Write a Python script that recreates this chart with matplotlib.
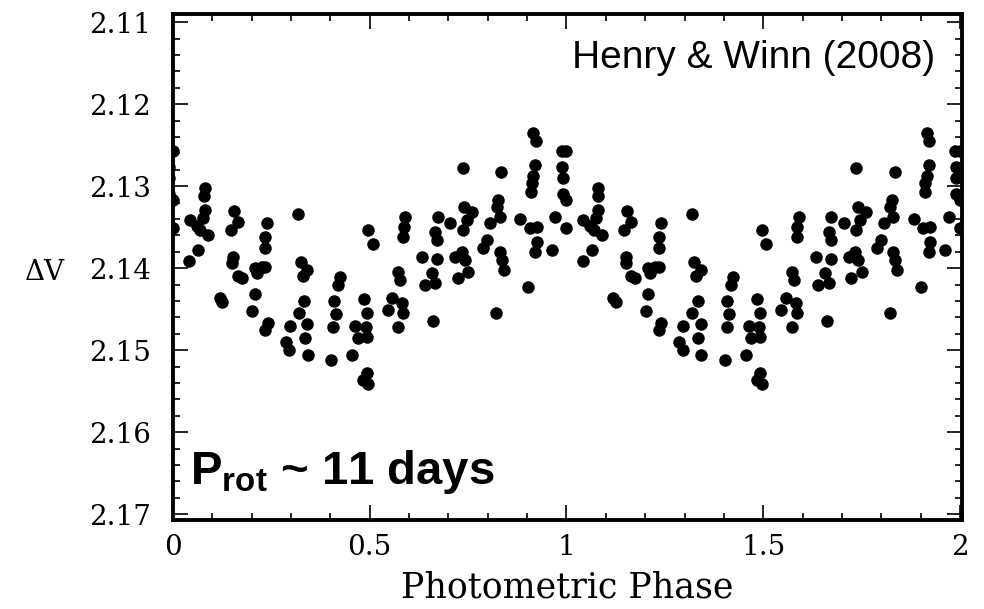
import numpy as np
import matplotlib
matplotlib.use("Agg")
import matplotlib.pyplot as plt
from matplotlib.ticker import MultipleLocator, FuncFormatter

# photometric phase (one cycle) and Delta V
phase = [0.081, 0.079, 0.081, 0.076, 0.043, 0.061, 0.069, 0.089, 0.064, 0.041,
         0.119, 0.125, 0.155, 0.165, 0.147, 0.152, 0.150, 0.165, 0.175, 0.208,
         0.226, 0.234, 0.213, 0.208, 0.201, 0.239, 0.234, 0.234, 0.234, 0.241,
         0.318, 0.325, 0.341, 0.330, 0.424, 0.419, 0.333, 0.320, 0.341, 0.335,
         0.343, 0.297, 0.287, 0.295, 0.402, 0.409, 0.414, 0.407, 0.455, 0.463,
         0.470, 0.485, 0.493, 0.483, 0.493, 0.496, 0.496, 0.508, 0.490, 0.493,
         0.590, 0.587, 0.585, 0.572, 0.577, 0.557, 0.546, 0.582, 0.585, 0.572,
         0.673, 0.704, 0.666, 0.671, 0.633, 0.671, 0.658, 0.640, 0.666, 0.661,
         0.737, 0.740, 0.737, 0.717, 0.734, 0.742, 0.724, 0.750, 0.760, 0.747,
         0.834, 0.826, 0.823, 0.831, 0.806, 0.798, 0.788, 0.831, 0.836, 0.841,
         0.821, 0.882, 0.915, 0.922, 0.920, 0.915, 0.912, 0.910, 0.907, 0.925,
         0.925, 0.920, 0.902, 0.963, 0.971, 0.988, 0.999, 0.989, 0.991, 0.991,
         0.999, 0.999]
delta_v = [2.1302, 2.1312, 2.1329, 2.1339, 2.1341, 2.1348, 2.1354, 2.1359, 2.1378, 2.1391,
           2.1437, 2.1441, 2.1330, 2.1344, 2.1354, 2.1387, 2.1394, 2.1409, 2.1412, 2.1400,
           2.1399, 2.1399, 2.1406, 2.1432, 2.1452, 2.1345, 2.1362, 2.1376, 2.1476, 2.1467,
           2.1334, 2.1393, 2.1402, 2.1409, 2.1411, 2.1420, 2.1440, 2.1455, 2.1468, 2.1485,
           2.1506, 2.1470, 2.1490, 2.1500, 2.1512, 2.1440, 2.1456, 2.1472, 2.1506, 2.1471,
           2.1485, 2.1438, 2.1455, 2.1537, 2.1528, 2.1541, 2.1354, 2.1370, 2.1472, 2.1484,
           2.1338, 2.1350, 2.1362, 2.1405, 2.1415, 2.1437, 2.1451, 2.1443, 2.1455, 2.1472,
           2.1338, 2.1345, 2.1356, 2.1366, 2.1387, 2.1389, 2.1406, 2.1421, 2.1418, 2.1465,
           2.1278, 2.1326, 2.1354, 2.1387, 2.1380, 2.1390, 2.1412, 2.1405, 2.1332, 2.1341,
           2.1283, 2.1317, 2.1326, 2.1338, 2.1345, 2.1366, 2.1376, 2.1380, 2.1390, 2.1402,
           2.1455, 2.1340, 2.1235, 2.1245, 2.1274, 2.1287, 2.1296, 2.1307, 2.1351, 2.1350,
           2.1368, 2.1380, 2.1423, 2.1378, 2.1338, 2.1257, 2.1257, 2.1277, 2.1290, 2.1309,
           2.1317, 2.1351]

cycles = [-1, 0, 1]
x_ticks = [0, 0.5, 1, 1.5, 2]
y_ticks = [2.11, 2.12, 2.13, 2.14, 2.15, 2.16, 2.17]

plt.rcParams["mathtext.fontset"] = "custom"
plt.rcParams["mathtext.bf"] = "Liberation Sans:bold"
plt.rcParams["mathtext.rm"] = "Liberation Sans"

fig = plt.figure(figsize=(9.84, 6.09), dpi=100)
ax = fig.add_axes([0.1758, 0.146, 0.8018, 0.831])

ph = np.asarray(phase)
dv = np.asarray(delta_v)
# phase-folded curve drawn over two cycles (edges clipped by the axes)
for c in cycles:
    ax.plot(ph + c, dv, "o", color="black", ms=9, mew=0, clip_on=True)

ax.set_xlim(0, 2.005)
ax.set_ylim(2.17073, 2.1090)
ax.set_xticks(x_ticks)
ax.set_yticks(y_ticks)
ax.xaxis.set_minor_locator(MultipleLocator(0.1))
ax.yaxis.set_minor_locator(MultipleLocator(0.002))
ax.xaxis.set_major_formatter(FuncFormatter(lambda v, p: "%g" % v))
ax.yaxis.set_major_formatter(FuncFormatter(lambda v, p: "%.2f" % v))
ax.tick_params(which="both", direction="in", top=True, right=True,
               color="black", width=1.2)
ax.tick_params(which="major", length=11, labelsize=20)
ax.tick_params(axis="y", which="major", pad=16)
ax.tick_params(axis="x", which="major", pad=10)
ax.tick_params(which="minor", length=5)
for lab in ax.get_xticklabels() + ax.get_yticklabels():
    lab.set_family("DejaVu Serif")
for sp in ax.spines.values():
    sp.set_linewidth(2.8)

ax.set_xlabel("Photometric Phase", family="DejaVu Serif", fontsize=25)
ax.xaxis.set_label_coords(0.5, -0.10)
ax.set_ylabel("ΔV", family="DejaVu Serif", fontsize=20, rotation=0,
              ha="center", va="center")
ax.yaxis.set_label_coords(-0.162, 0.49)

ax.text(0.966, 0.893, "Henry & Winn (2008)", transform=ax.transAxes,
        ha="right", va="baseline", fontsize=28, family="Liberation Sans")
ax.text(0.022, 0.072, r"P$_{\mathbf{rot}}$ ~ 11 days", transform=ax.transAxes,
        ha="left", va="baseline", fontsize=34, fontweight="bold",
        family="Liberation Sans")

fig.savefig("out.png", dpi=100)
